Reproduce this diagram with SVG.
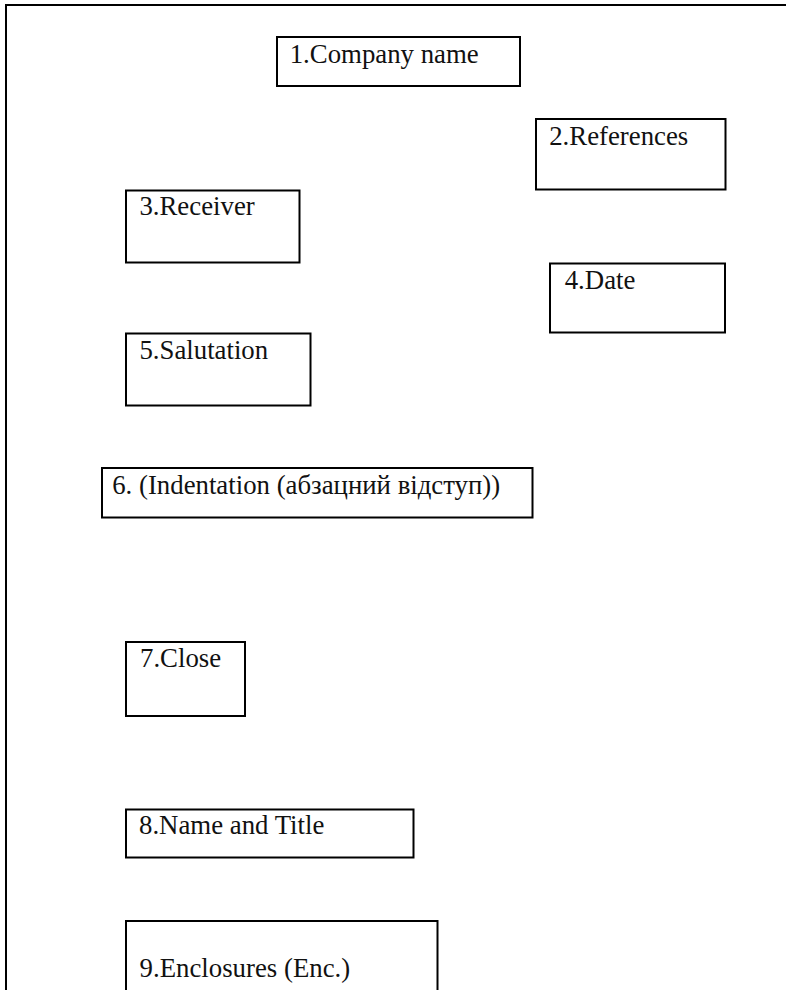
<svg xmlns="http://www.w3.org/2000/svg" width="786" height="990" viewBox="0 0 786 990">
<style>
.box{fill:none;stroke:#000;stroke-width:2}
.frame{fill:none;stroke:#000;stroke-width:2}
.t{font-family:'Liberation Serif','Times New Roman',serif;font-size:26.8px;fill:#111}
</style>
<rect width="786" height="990" fill="#fff"/>
<path class="frame" d="M6,990 V5 H786"/>
<g id="n1"><rect class="box" x="277" y="37" width="243" height="49"/><text class="t" x="289.7" y="63">1.Company name</text></g>
<g id="n2"><rect class="box" x="536" y="119" width="189.5" height="70.5"/><text class="t" x="549.2" y="145">2.References</text></g>
<g id="n3"><rect class="box" x="126" y="190.5" width="173.5" height="72"/><text class="t" x="139.4" y="215">3.Receiver</text></g>
<g id="n4"><rect class="box" x="550" y="263.5" width="175" height="69"/><text class="t" x="564.7" y="288.5">4.Date</text></g>
<g id="n5"><rect class="box" x="126" y="333.5" width="184.5" height="72"/><text class="t" x="139.4" y="358.5">5.Salutation</text></g>
<g id="n6"><rect class="box" x="102" y="468" width="430.5" height="49.5"/><text class="t" x="112.2" y="493.5">6. (Indentation (абзацний відступ))</text></g>
<g id="n7"><rect class="box" x="126" y="642" width="119" height="74"/><text class="t" x="140" y="667">7.Close</text></g>
<g id="n8"><rect class="box" x="126" y="809.5" width="287.5" height="48"/><text class="t" x="139" y="833.5">8.Name and Title</text></g>
<g id="n9"><rect class="box" x="126" y="921" width="311.5" height="80"/><text class="t" x="139.6" y="977">9.Enclosures (Enc.)</text></g>
<g id="connectors"></g>
</svg>
